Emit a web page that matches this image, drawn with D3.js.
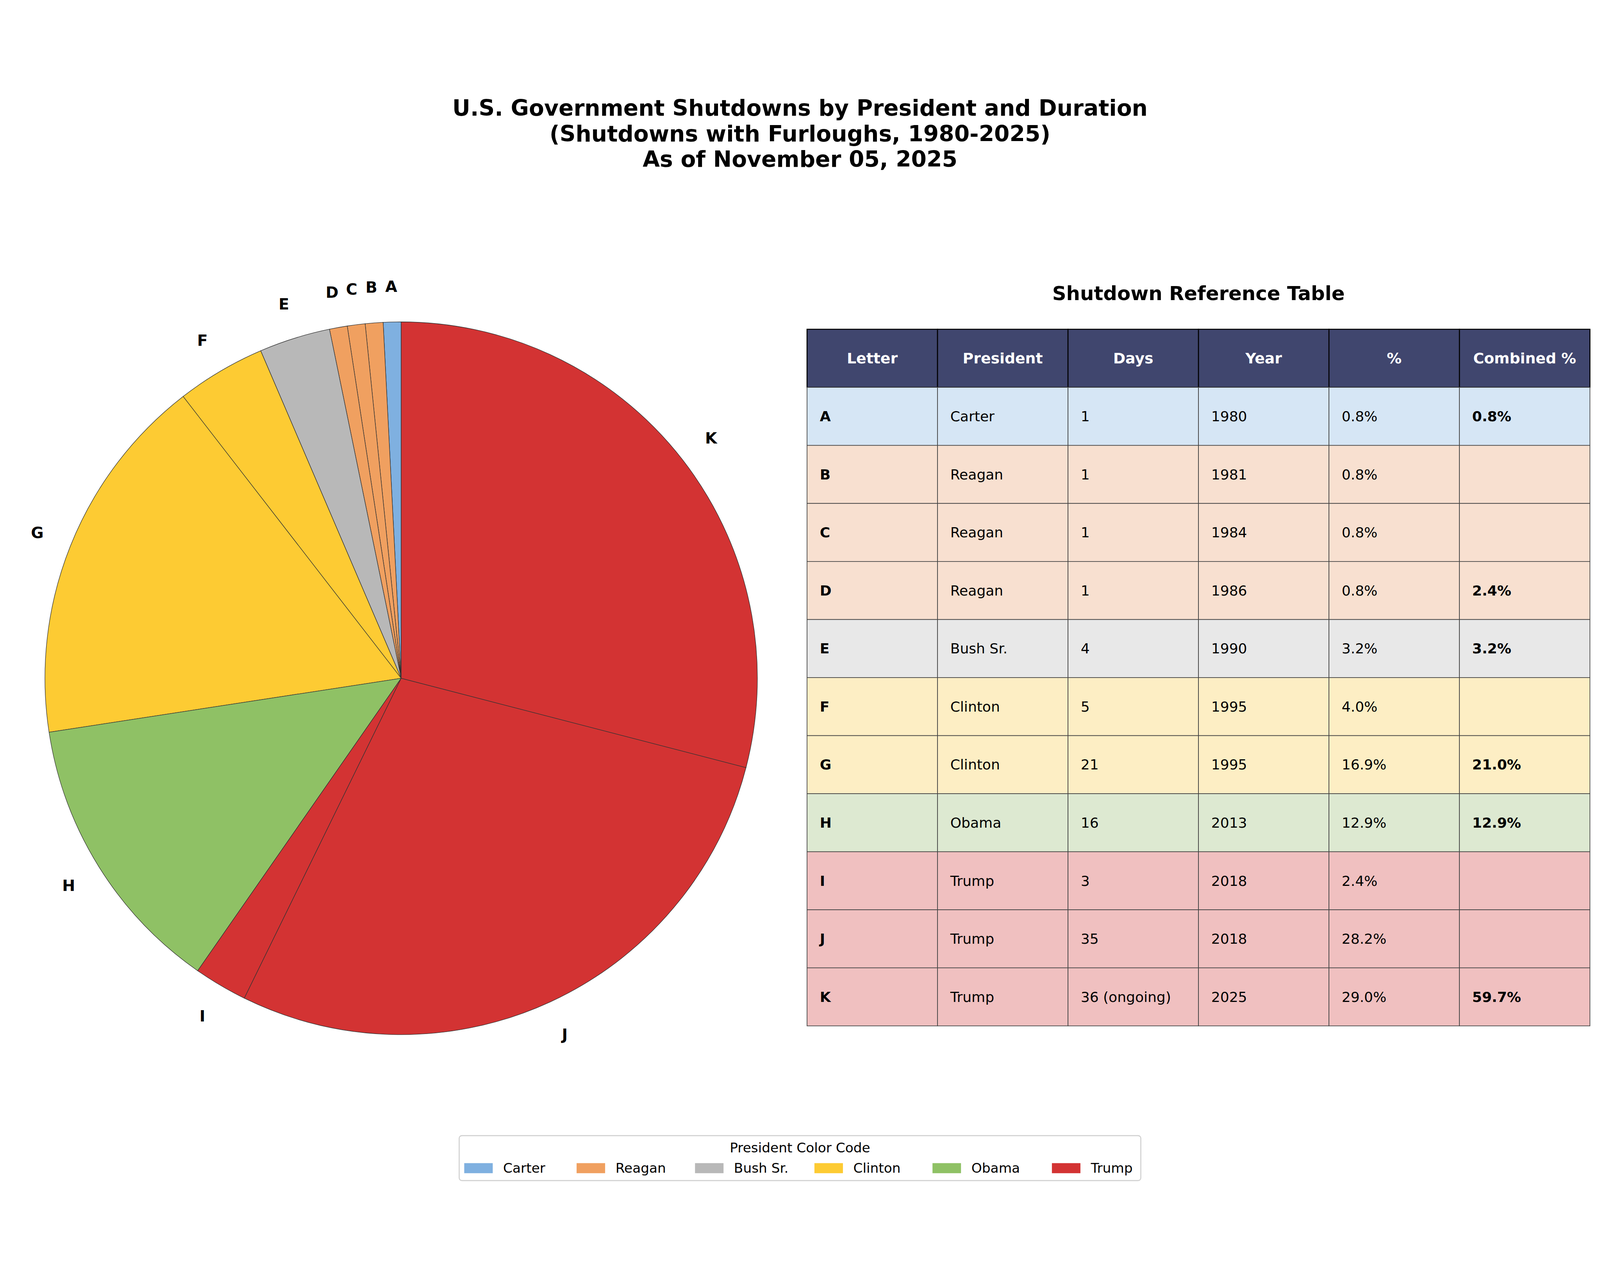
<!DOCTYPE html><html><head><meta charset="utf-8"><script src="https://cdn.jsdelivr.net/npm/d3@7"></script>
<style>html,body{margin:0;padding:0;background:#fff;overflow:hidden}svg{display:block;width:100vw;height:100vh}text{font-family:"DejaVu Sans",sans-serif}</style></head><body>
<svg id="c" viewBox="0 0 4770 3273" preserveAspectRatio="xMidYMid meet"></svg>
<script>
const letters=["A","B","C","D","E","F","G","H","I","J","K"];
const presidents=["Carter","Reagan","Reagan","Reagan","Bush Sr.","Clinton","Clinton","Obama","Trump","Trump","Trump"];
const days=[1,1,1,1,4,5,21,16,3,35,36];
const dayLabels=["1","1","1","1","4","5","21","16","3","35","36 (ongoing)"];
const years=[1980,1981,1984,1986,1990,1995,1995,2013,2018,2018,2025];
const combined=["0.8%","","","2.4%","3.2%","","21.0%","12.9%","","","59.7%"];
const presList=["Carter","Reagan","Bush Sr.","Clinton","Obama","Trump"];
const pieColors=["#7fb0e0","#f0a060","#b8b8b8","#fdcb33","#8fc165","#d33333"];
const rowColors=["#d6e6f5","#f8e0d0","#e8e8e8","#fdeec4","#dde9d1","#f0c0c0"];
const svg=d3.select("#c");
const pc=d3.scaleOrdinal(presList,pieColors), rc=d3.scaleOrdinal(presList,rowColors);
const total=d3.sum(days);
["U.S. Government Shutdowns by President and Duration","(Shutdowns with Furloughs, 1980-2025)","As of November 05, 2025"].forEach((t,i)=>
 svg.append("text").attr("x",2385).attr("y",76+i*76).attr("text-anchor","middle").attr("font-size",66).attr("font-weight","bold").text(t));
const cx=1196,cy=1752,R=1062;
const data=days.map((d,i)=>({l:letters[i],p:presidents[i],d}));
const pie=d3.pie().value(d=>d.d).sort(null).startAngle(0).endAngle(-2*Math.PI);
const arcs=pie(data);
const g=svg.append("g").attr("transform",`translate(${cx},${cy})`);
g.selectAll("path").data(arcs).join("path").attr("d",d3.arc().innerRadius(0).outerRadius(R))
 .attr("fill",d=>pc(d.data.p)).attr("stroke","#333").attr("stroke-width",1.5);
const la=d3.arc().innerRadius(R*1.1).outerRadius(R*1.1);
g.selectAll("text.l").data(arcs).join("text").attr("class","l")
 .attr("transform",d=>`translate(${la.centroid(d)})`).attr("text-anchor","middle").attr("dy","0.35em")
 .attr("font-size",46).attr("font-weight","bold").text(d=>d.data.l);
const tx=2406,tw=2334,ty=712,hh=173,rh=173,cw=tw/6;
svg.append("text").attr("x",tx+tw/2).attr("y",625).attr("text-anchor","middle").attr("font-size",58).attr("font-weight","bold").text("Shutdown Reference Table");
const heads=["Letter","President","Days","Year","%","Combined %"];
heads.forEach((h,j)=>{
 svg.append("rect").attr("x",tx+j*cw).attr("y",ty).attr("width",cw).attr("height",hh).attr("fill","#40466e").attr("stroke","#000").attr("stroke-width",3);
 svg.append("text").attr("x",tx+j*cw+cw/2).attr("y",ty+hh/2).attr("dy","0.35em").attr("text-anchor","middle").attr("fill","#fff").attr("font-size",44).attr("font-weight","bold").text(h);
});
data.forEach((r,i)=>{
 const y=ty+hh+i*rh;
 const vals=[r.l,r.p,dayLabels[i],String(years[i]),(days[i]/total*100).toFixed(1)+"%",combined[i]];
 vals.forEach((v,j)=>{
  svg.append("rect").attr("x",tx+j*cw).attr("y",y).attr("width",cw).attr("height",rh).attr("fill",rc(r.p)).attr("stroke","#444").attr("stroke-width",2);
  svg.append("text").attr("x",tx+j*cw+38).attr("y",y+rh/2).attr("dy","0.35em").attr("font-size",42)
   .attr("font-weight",(j==0||j==5)?"bold":"normal").text(v);
 });
});
const lx=1369,ly=3115,lw=2032,lh=134;
svg.append("rect").attr("x",lx).attr("y",ly).attr("width",lw).attr("height",lh).attr("rx",8).attr("fill","#fff").attr("stroke","#d0d0d0").attr("stroke-width",3);
svg.append("text").attr("x",lx+lw/2).attr("y",ly+50).attr("text-anchor","middle").attr("font-size",40).text("President Color Code");
const lxs=[1384,1719,2072,2428,2780,3136];
presList.forEach((p,i)=>{
 svg.append("rect").attr("x",lxs[i]).attr("y",ly+82).attr("width",85).attr("height",30).attr("fill",pc(p));
 svg.append("text").attr("x",lxs[i]+116).attr("y",ly+97).attr("dy","0.35em").attr("font-size",40).text(p);
});
</script></body></html>
